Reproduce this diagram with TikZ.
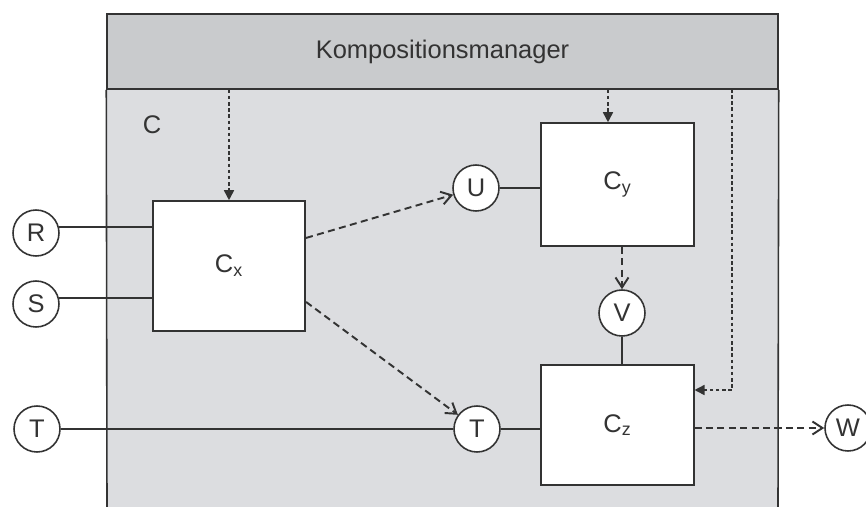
\documentclass[tikz,border=0pt]{standalone}
\usepackage{fontspec}
\setmainfont{Liberation Sans}
\usetikzlibrary{positioning, arrows.meta, calc}
\definecolor{bandGray}{HTML}{C9CBCD}
\definecolor{bodyGray}{HTML}{DCDDE0}
\definecolor{inkGray}{HTML}{333333}
\tikzset{
  every node/.style={font=\fontsize{14.5}{17}\selectfont, text=inkGray},
  ln/.style={draw=inkGray, line width=0.9pt},
  comp/.style={ln, fill=white, minimum width=3.05cm},
  port/.style={ln, circle, fill=white, minimum size=0.92cm, inner sep=0pt},
  flow/.style={ln, line width=1.1pt, dash pattern=on 4pt off 2.5pt, -{Straight Barb[length=2mm, width=2.6mm]}},
  ctrl/.style={ln, dash pattern=on 2pt off 1.5pt, -{Triangle[length=2mm, width=2mm]}},
}

\begin{document}
\begin{tikzpicture}[x=0.02cm, y=-0.02cm]
  \useasboundingbox (0,0) rectangle (866,507);
  % container C with its manager band
  \fill[bodyGray] (107,89) rectangle (778,507);
  \node[ln, fill=bandGray, minimum width=13.42cm, minimum height=1.5cm] (km) at (442.5,51.5) {Kompositionsmanager};
  \draw[ln] (km.south west) -- (107,507);
  \draw[ln] (km.south east) -- (778,507);
  \node (lc) at (152,125) {C};
  % components
  \node[comp, minimum height=2.6cm] (cx) at (229,266) {C\textsubscript{x}};
  \node[comp, minimum height=2.46cm] (cy) at (617.5,184.5) {C\textsubscript{y}};
  \node[comp, minimum height=2.4cm] (cz) at (617.5,425) {C\textsubscript{z}};
  % ports
  \node[port] (r) at (36,233) {R};
  \node[port] (s) at (36,304) {S};
  \node[port] (tin) at (37,429) {T};
  \node[port] (u) at (476,188) {U};
  \node[port] (v) at (622,313) {V};
  \node[port] (t) at (477,429) {T};
  \node[port] (w) at (848,428) {W};
  % wiring
  \draw[ln] (r.15) -- (r.15 -| cx.west);
  \draw[ln] (s.15) -- (s.15 -| cx.west);
  \draw[ln] (tin) -- (t);
  \draw[ln] (u) -- (u -| cy.west);
  \draw[ln] (t) -- (t -| cz.west);
  \draw[ln] (v) -- (v |- cz.north);
  % data flow
  \draw[flow] (cx.20) -- (u);
  \draw[flow] (cx.-25) -- (t);
  \draw[flow] (v |- cy.south) -- (v);
  \draw[flow] (cz.east |- w) -- (w);
  % control from the manager
  \draw[ctrl] (cx.north |- km.south) -- (cx.north);
  \draw[ctrl] ([xshift=-0.19cm]cy.north |- km.south) -- ([xshift=-0.19cm]cy.north);
  \coordinate (tap) at (732,89);
  \draw[ctrl] (tap) |- ([yshift=0.7cm]cz.east);
\end{tikzpicture}
\end{document}
